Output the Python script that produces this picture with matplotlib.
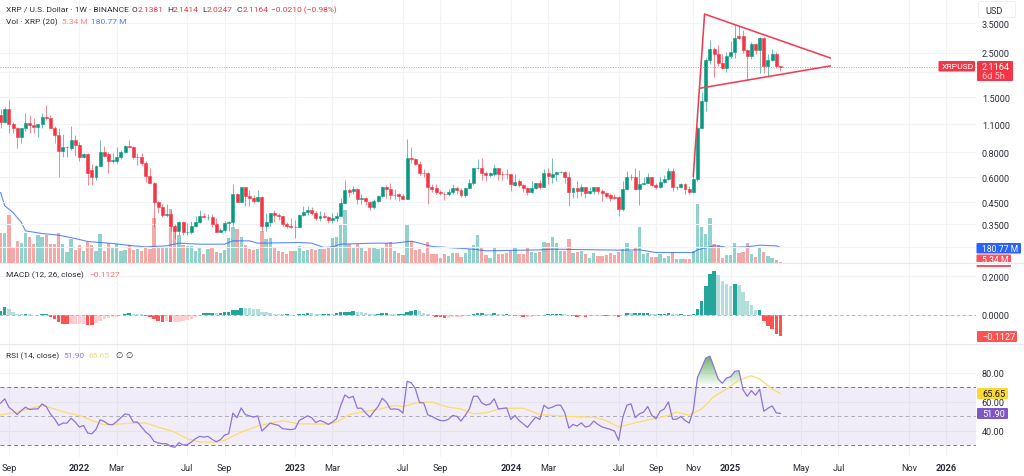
import numpy as np
import pandas as pd
import matplotlib
matplotlib.use("Agg")
import matplotlib.dates as mdates
import matplotlib.pyplot as plt
from matplotlib.colors import LinearSegmentedColormap
from matplotlib.patches import Rectangle, FancyBboxPatch
from matplotlib.path import Path
from matplotlib.ticker import NullLocator

plt.rcParams["font.family"] = ["Roboto", "DejaVu Sans"]

# weekly XRPUSD candles (first one is 23 Aug 2021)
first_week = "2021-08-23"

opens = [1.23,1.13,1.31,1.11,1.05,.95,1.05,1.12,1.09,1.07,
         1.1,1.2,1.18,1.06,.97,.81,.85,.84,.92,.865,
         .76,.78,.65,.60,.68,.80,.78,.72,.72,.76,
         .80,.86,.85,.76,.76,.71,.61,.565,.455,.425,
         .39,.395,.345,.325,.36,.32,.32,.345,.36,.385,
         .38,.38,.35,.32,.33,.355,.36,.495,.455,.535,
         .485,.475,.46,.48,.345,.36,.40,.39,.385,.35,
         .345,.34,.34,.39,.405,.415,.40,.375,.385,.38,
         .37,.375,.385,.445,.52,
         .515,.525,.467,.472,.455,.425,.458,.485,.54,.525,
         .49,.495,.485,.47,.75,.737,.70,.63,.628,.54,
         .53,.508,.498,.495,.505,.53,.522,.49,.53,.56,
         .665,.665,.628,.618,.625,.665,.622,.622,.62,.55,
         .575,.55,.53,.505,.53,.56,.54,.628,.605,.62,
         .635,.635,.60,.505,.53,.515,.535,.50,.515,.535,
         .515,.50,.49,.48,.48,.42,.525,.60,.605,.525,
         .555,.565,.605,.55,.535,.57,.59,.645,.54,.54,
         .555,.525,
         .505,.587,1.06,1.44,2.30,2.6,2.45,2.21,2.09,2.39,
         2.52,3.03,3.03,2.58,2.39,2.75,2.58,2.96,2.15,2.30,2.45,2.1381]
closes = [1.13,1.31,1.11,1.05,.955,1.05,1.12,1.09,1.07,1.10,
          1.2,1.18,1.06,.97,.81,.85,.85,.92,.865,.76,
          .78,.63,.60,.68,.80,.77,.72,.73,.76,.80,
          .86,.85,.76,.76,.71,.61,.565,.455,.425,.39,
          .395,.345,.325,.36,.32,.32,.345,.36,.385,.38,
          .38,.35,.32,.33,.355,.36,.495,.455,.535,.485,
          .475,.46,.48,.345,.36,.40,.39,.385,.35,.345,
          .34,.34,.39,.405,.415,.40,.375,.385,.38,.37,
          .375,.385,.445,.52,.51,
          .525,.467,.476,.456,.425,.458,.485,.54,.525,.49,
          .49,.485,.47,.75,.737,.70,.628,.628,.54,.525,
          .505,.50,.495,.505,.53,.52,.49,.53,.56,.665,
          .665,.628,.618,.628,.665,.62,.62,.62,.555,.572,
          .55,.53,.51,.53,.56,.54,.628,.61,.62,.635,
          .64,.60,.505,.53,.515,.535,.50,.515,.535,.515,
          .50,.485,.476,.472,.42,.525,.60,.60,.525,.555,
          .565,.605,.55,.535,.57,.59,.645,.54,.54,.555,
          .525,.505,
          .587,1.06,1.44,2.30,2.6,2.45,2.21,2.09,2.39,2.52,
          2.95,2.95,2.58,2.39,2.75,2.58,2.96,2.15,2.30,2.45,2.1381,2.1164]
highs = [1.31,1.34,1.45,1.13,1.07,1.06,1.25,1.22,1.18,1.11,
         1.25,1.37,1.22,1.08,1.06,.98,.86,1.08,.97,.90,
         .79,.79,.70,.69,.92,.86,.80,.79,.85,.82,
         .87,.92,.86,.79,.79,.72,.67,.57,.46,.44,
         .44,.415,.35,.365,.365,.355,.365,.385,.415,.40,
         .395,.395,.375,.335,.365,.365,.555,.50,.54,.54,
         .52,.49,.52,.485,.40,.40,.415,.40,.385,.36,
         .375,.37,.395,.43,.43,.425,.41,.41,.405,.385,
         .40,.405,.475,.585,.53,
         .545,.53,.495,.48,.458,.47,.49,.545,.55,.565,
         .525,.50,.495,.935,.853,.75,.72,.66,.635,.555,
         .555,.52,.51,.525,.555,.545,.53,.535,.59,.67,
         .737,.75,.645,.64,.70,.67,.645,.66,.622,.622,
         .59,.555,.54,.575,.565,.585,.66,.67,.75,.64,
         .645,.645,.635,.54,.575,.555,.54,.535,.54,.54,
         .525,.51,.50,.495,.485,.575,.645,.62,.665,.655,
         .605,.63,.605,.565,.60,.615,.67,.665,.545,.565,
         .565,.545,
         .62,1.08,1.60,2.35,2.90,2.65,2.72,2.45,2.52,2.85,
         3.42,3.40,3.24,2.6,2.82,2.8,3.0,3.0,2.47,2.6,2.52,2.1414]
lows = [1.05,1.12,1.00,1.0,.84,.89,1.02,1.0,1.0,.95,
        1.05,1.16,1.05,.89,.60,.76,.76,.82,.77,.72,
        .75,.55,.55,.58,.68,.76,.63,.71,.71,.74,
        .79,.84,.74,.69,.69,.57,.56,.34,.40,.38,
        .38,.325,.295,.31,.31,.31,.315,.34,.355,.375,
        .37,.34,.32,.32,.32,.325,.345,.45,.45,.43,
        .43,.445,.45,.325,.325,.345,.36,.37,.345,.335,
        .335,.30,.34,.385,.39,.39,.37,.365,.375,.355,
        .355,.36,.385,.44,.48,
        .495,.44,.44,.437,.414,.416,.45,.48,.476,.467,
        .47,.458,.467,.467,.705,.69,.615,.605,.44,.505,
        .495,.49,.463,.485,.495,.495,.48,.48,.525,.55,
        .66,.585,.575,.60,.61,.585,.585,.59,.515,.545,
        .54,.505,.49,.50,.525,.525,.535,.555,.565,.575,
        .628,.565,.43,.476,.476,.485,.476,.495,.495,.495,
        .458,.476,.458,.467,.385,.41,.52,.585,.52,.437,
        .555,.56,.545,.525,.53,.565,.585,.515,.52,.53,
        .495,.495,
        .50,.576,1.05,1.28,2.2,1.90,2.15,2.07,2.0,2.34,
        2.34,2.93,2.5,1.82,2.32,2.45,1.97,1.98,1.90,2.27,2.09,2.0247]

# volume, millions
volume = [352,352,568,188,260,240,352,312,220,328,
          312,332,220,228,360,220,132,280,152,208,
          140,252,212,140,348,140,240,180,228,140,
          152,212,152,168,140,180,160,532,188,180,
          180,640,400,328,208,200,200,140,188,100,
          160,180,132,120,148,300,432,400,308,212,
          168,152,168,380,280,300,192,140,128,100,
          140,140,200,140,152,160,152,168,168,180,
          296,304,460,632,220,
          180,220,192,140,172,184,164,184,240,252,
          140,112,88,460,260,152,160,112,252,100,
          100,60,100,80,120,120,72,120,168,208,
          328,192,88,60,172,100,100,120,140,180,
          100,100,192,128,112,132,248,232,312,232,
          140,140,280,112,128,140,100,60,120,80,
          80,88,120,92,128,160,240,140,192,424,
          100,120,72,72,100,60,80,128,40,48,
          48,48,
          140,700,428,348,532,220,208,60,88,88,
          232,112,132,240,100,72,172,132,80,60,32,5.34]

# 20 week volume average, only the kinks of the line (weeks counted from 3 Jan 2022)
vol_ma_weeks = [-19,-18,-16,-14,-13,-9,-5,-1,2,8,13,16,21,24,29,35,37,41,43,53,56,59,61,
                63,71,76,80,82,85,95,98,111,114,131,135,139,147,148,149,153,155,156,161,164,168,169]
vol_ma = [840,680,600,480,380,348,328,288,252,228,200,188,200,232,220,220,260,260,232,240,232,180,188,
          220,232,232,256,232,192,160,140,152,160,148,152,120,120,120,152,200,192,180,188,208,200,180.77]

macd_hist = [.021,.038,.031,.014,.005,.003,.003,.002,-.002,-.003,
             .002,.003,-.009,-.022,-.038,-.047,-.048,-.047,-.047,-.047,
             -.047,-.052,-.055,-.043,-.034,-.022,-.017,-.014,-.012,-.003,
             .005,.009,.005,.003,.002,-.005,-.012,-.022,-.031,-.036,
             -.034,-.036,-.036,-.036,-.031,-.026,-.022,-.014,-.005,.009,
             .009,.010,.007,.010,.012,.016,.026,.026,.036,.034,
             .033,.029,.028,.014,.012,.009,.005,.003,.002,.002,
             -.003,-.002,.003,.005,.009,.007,.005,.003,.003,.003,
             .002,.007,.016,.017,.017,
             .019,.014,.012,.009,.005,.003,.005,.007,.009,.003,
             .002,.002,.002,.017,.022,.026,.021,.010,.005,-.002,
             -.009,-.014,-.017,-.017,-.014,-.012,-.012,-.007,-.002,.003,
             .007,.007,.005,.003,.007,.003,.002,.002,-.003,-.007,
             -.007,-.014,-.014,-.010,-.007,-.005,-.003,.003,.005,.005,
             .005,.002,-.003,-.007,-.009,-.005,-.010,-.007,-.005,-.005,
             -.005,-.007,-.007,-.007,-.012,-.003,.009,.007,.007,.007,
             .007,.009,.005,.003,.003,.005,.009,.003,.002,.002,
             -.002,-.005,
             .002,.031,.074,.152,.212,.226,.207,.174,.160,.152,
             .160,.157,.117,.071,.053,.026,.027,-.033,-.060,-.072,-.098,-.1127]

rsi = [59,62,56.2,53.9,51.1,53.9,56.2,54.6,55,55,
       58.5,56.7,51.6,48.2,43.6,45.2,45.2,48.6,45.9,42.4,
       43.6,38.3,37.8,40.8,47.5,46.3,44.3,44,46.3,48.9,
       51.6,50.9,45.9,45.9,42.4,39,36.7,32.5,31.4,30.9,
       30.9,29.1,28.4,31.6,30,30.2,32.1,34.4,36,35.5,
       36,33.9,32.3,33.7,36.9,37.8,52.1,48.9,55.7,51.1,
       50.2,49.3,50.2,39.7,42.4,45.2,44.3,43.6,41.3,41,
       40.6,41.3,47,48.6,50.2,48.9,45.6,47,45.9,44.3,
       45.9,48.2,57.4,64.7,62.6,
       63.8,55.5,55.5,52.3,49.3,53.2,56.7,62.4,59.7,54.8,
       55,54.6,52.1,74.1,73.2,68.9,59.4,59.2,50.9,49.8,
       48.2,47,46.8,47.9,50.5,49.8,46.6,50.5,55,63.8,
       63.8,59.2,57.6,58.5,62,55,55.3,55.7,47.7,50.5,
       47,44.7,42.2,45.9,49.3,47.7,57.6,55.3,56.2,57.6,
       57.6,52.5,41.7,44.3,43.1,45.4,42.4,43.3,46.6,44.3,
       42.6,41.7,40.8,39.7,33.2,49.3,57.6,58.5,48.9,51.6,
       52.8,56.7,50.5,48.2,53.4,55,59.9,47.9,47.9,49.8,
       47,45.2,
       53.9,76.9,83.3,90.2,91.6,83.8,75.7,72.8,76.4,77.4,
       81,81.5,68.2,63.8,67.7,64.5,68.6,53.4,55.5,57.1,52.3,51.9]

rsi_ma_weeks = [-19,-15,-13,-9,-6,-3,0,3,6,10,13,16,19,23,26,29,33,35,39,43,46,49,53,60,62,
                65,68,72,76,78,82,85,89,92,95,98,102,107,111,118,124,127,130,134,138,142,144,147,
                150,153,156,159,162,164,167,169]
rsi_ma = [50.9,52.8,54.4,57.4,55,52.3,50.5,47,44,44.7,45.2,45.2,42.4,39,34.4,32.1,32.1,33.2,39,43.1,45.2,46.8,44.7,44.5,45.9,
          51,52.8,54.6,57.4,56.7,59.7,59.7,56.2,55,51.6,52.3,55.5,55.5,51.1,49.8,49.3,47,42.4,45.4,47.9,50.5,52.8,50.7,
          55,63.6,68.9,75,78,75.7,68.9,65.65]

price_ticks = [3.5, 2.5, 2.0, 1.5, 1.1, 0.8, 0.6, 0.45, 0.35, 0.27]
price_labels = ["3.5000", "2.5000", "", "1.5000", "1.1000", "0.8000", "0.6000", "0.4500", "0.3500", ""]
macd_ticks = [0.2, 0.0]
rsi_ticks = [80, 60, 40]

month_ticks = ["2021-09-06", "2022-01-03", "2022-03-07", "2022-07-04", "2022-09-05", "2023-01-02",
               "2023-03-06", "2023-07-03", "2023-09-04", "2024-01-01", "2024-03-04", "2024-07-01",
               "2024-09-02", "2024-11-04", "2025-01-06", "2025-05-05", "2025-07-07", "2025-11-03", "2026-01-05"]
month_labels = ["Sep", "2022", "Mar", "Jul", "Sep", "2023", "Mar", "Jul", "Sep", "2024", "Mar", "Jul",
                "Sep", "Nov", "2025", "May", "Jul", "Nov", "2026"]

# drawn triangle on the price pane
leg_dates = ["2024-11-04", "2024-11-23", "2025-06-23"]
leg_prices = [0.608, 3.88, 2.35]
base_dates = ["2024-11-16", "2025-06-23"]
base_prices = [1.664, 2.144]

UP = "#089981"
DOWN = "#f23645"
GRID = "#f2f3f6"
TEXT = "#2a2e39"
FS = 6.6     # scale labels
LEG = 6.0    # pane legends

W, H = 1024, 477

opens, closes, highs, lows = map(np.array, (opens, closes, highs, lows))
rsi = np.array(rsi)
macd_hist = np.array(macd_hist)
dates = pd.date_range(first_week, periods=len(closes), freq="7D")
x = mdates.date2num(dates)
jan22 = mdates.date2num(pd.Timestamp("2022-01-03"))
rising = closes >= opens
tick_x = mdates.date2num(pd.to_datetime(month_ticks))
# pane limits: left edge is just before the first candle, right edge is the price scale
xlim = (jan22 - 19.14 * 7, jan22 + 216.15 * 7)


def pane(top, bottom):
    ax = fig.add_axes([0, 1 - bottom / H, 976 / W, (bottom - top) / H])
    for s in ax.spines.values():
        s.set_visible(False)
    ax.set_xticks(tick_x)
    ax.tick_params(length=0, labelbottom=False)
    ax.yaxis.tick_right()
    ax.set_xlim(*xlim)
    return ax


fig = plt.figure(figsize=(W / 100, H / 100), dpi=100, facecolor="white")

# volume sits behind the candles in the same pane
ax_vol = pane(0, 263.5)
ax_vol.set_zorder(1)
ax_vol.grid(axis="x", color=GRID, lw=0.8)
ax_vol.set_axisbelow(True)
ax_vol.set_yticks([])
ax_vol.bar(x, volume, width=5.6, color=np.where(rising, "#26a69a", "#ef5350"), alpha=0.5, lw=0)
ax_vol.plot(jan22 + np.array(vol_ma_weeks) * 7, vol_ma, color="#2962ff", lw=0.8, alpha=0.75)
ax_vol.set_ylim(0, 3162)
ax_vol.set_xlim(*xlim)

ax = pane(0, 263.5)
ax.set_zorder(2)
ax.patch.set_visible(False)
ax.set_yscale("log")
ax.set_ylim(0.2266, 4.61)
ax.set_xlim(*xlim)
ax.set_yticks(price_ticks)
ax.set_yticklabels(price_labels, fontsize=FS, color=TEXT)
ax.yaxis.set_minor_locator(NullLocator())
ax.tick_params(axis="y", pad=4.2)
ax.set_xticks([])
ax.grid(axis="y", color=GRID, lw=0.8)
ax.set_axisbelow(True)
colors = np.where(rising, UP, DOWN)
ax.vlines(x, lows, highs, colors=colors, lw=0.7, alpha=0.6)
ax.bar(x, np.abs(closes - opens), bottom=np.minimum(opens, closes), width=5.0, color=colors,
       edgecolor=colors, lw=0.4)
ax.axhline(closes[-1], color=DOWN, lw=0.7, ls=(0, (1, 1.5)), alpha=0.6)
ax.plot(mdates.date2num(pd.to_datetime(leg_dates)), leg_prices, color="#f23d55", lw=1.15)
ax.plot(mdates.date2num(pd.to_datetime(base_dates)), base_prices, color="#f23d55", lw=1.15)

# MACD histogram
ax_macd = pane(265, 345)
ax_macd.set_ylim(-0.152, 0.264)
growing = np.diff(macd_hist, prepend=macd_hist[0]) >= 0
hist_colors = [("#26a69a" if g else "#b2dfdb") if v >= 0 else ("#ffcdd2" if g else "#ff5252")
               for v, g in zip(macd_hist, growing)]
ax_macd.grid(color=GRID, lw=0.8)
ax_macd.set_axisbelow(True)
ax_macd.axhline(0, color="#b2b5be", lw=0.7, ls=(0, (3, 3)))
ax_macd.bar(x, macd_hist, width=5.9, color=hist_colors, lw=0)
ax_macd.set_yticks(macd_ticks)
ax_macd.set_yticklabels(["%.4f" % v for v in macd_ticks], fontsize=FS, color=TEXT)
ax_macd.tick_params(axis="y", pad=4.2)

# RSI
ax_rsi = pane(345, 458)
ax_rsi.grid(color=GRID, lw=0.8)
ax_rsi.set_axisbelow(True)
ax_rsi.axhspan(30, 70, color="#7e57c2", alpha=0.1, lw=0)
for level, a in ((70, 1), (50, 0.55), (30, 1)):
    ax_rsi.axhline(level, color="#787b86", lw=0.7, ls=(0, (4, 3)), alpha=a)
overbought = ax_rsi.fill_between(x, rsi, 70, where=rsi > 70, interpolate=True, color="none")
clip = Path.make_compound_path(*overbought.get_paths())
green_fade = LinearSegmentedColormap.from_list("fade", [(0.3, 0.68, 0.31, 0.0), (0.3, 0.62, 0.31, 0.85)])
im = ax_rsi.imshow(np.linspace(1, 0, 64).reshape(-1, 1), cmap=green_fade, aspect="auto",
                   extent=[x[0], x[-1], 70, 92], zorder=1.5)
im.set_clip_path(clip, transform=ax_rsi.transData)
ax_rsi.plot(jan22 + np.array(rsi_ma_weeks) * 7, rsi_ma, color="#fbdc6c", lw=0.9, zorder=3)
ax_rsi.plot(x, rsi, color="#8f73d6", lw=0.9, zorder=4)
ax_rsi.set_xlim(*xlim)
ax_rsi.set_ylim(21.7, 100)
ax_rsi.set_yticks(rsi_ticks)
ax_rsi.set_yticklabels(["%.2f" % v for v in rsi_ticks], fontsize=FS, color=TEXT)
ax_rsi.tick_params(axis="y", pad=4.2)
ax_rsi.tick_params(axis="x", labelbottom=True, pad=4.2)
ax_rsi.set_xticklabels(month_labels, fontsize=FS, color=TEXT)
for label in ax_rsi.get_xticklabels():
    if label.get_text().isdigit():
        label.set_fontweight("bold")

# overlay in pixel coordinates for the legends and price tags
over = fig.add_axes([0, 0, 1, 1])
over.set_zorder(10)
over.patch.set_visible(False)
over.axis("off")
over.set_xlim(0, W)
over.set_ylim(H, 0)


def label(px, py, s, color=TEXT, size=LEG, **kw):
    over.text(px, py, s, color=color, fontsize=size, va="center", **kw)


def tag(x0, x1, y0, y1, color):
    over.add_patch(FancyBboxPatch((x0 + 1, y0 + 1), x1 - x0 - 2, y1 - y0 - 2,
                                  boxstyle="round,pad=1", fc=color, ec="none"))


over.plot([0, W], [264, 264], color="#e8e9ee", lw=0.8)
over.plot([0, W], [345, 345], color="#e8e9ee", lw=0.8)

label(5.7, 10, "XRP / U.S. Dollar · 1W · BINANCE")
label(132, 10, "O")
label(138, 10, "2.1381", DOWN)
label(167, 10, "H")
label(172.5, 10, "2.1414", DOWN)
label(202, 10, "L")
label(207, 10, "2.0247", DOWN)
label(236.5, 10, "C")
label(243, 10, "2.1164", DOWN)
label(271, 10, "−0.0210 (−0.98%)", DOWN)
label(5.7, 21.7, "Vol · XRP (20)")
label(62, 21.7, "5.34 M", "#f5898c")
label(91, 21.7, "180.77 M", "#4d7dff")
label(5.7, 275, "MACD (12, 26, close)")
label(89, 275, "−0.1127", "#ff6b6b")
label(5.7, 356, "RSI (14, close)")
label(63, 356, "51.90", "#9276d8")
label(88.7, 356, "65.65", "#f7dc6a")
label(115, 356, "∅")
label(125, 356, "∅")

# USD button, covers the top of the 3.5000 label
over.add_patch(FancyBboxPatch((980, 4), 34, 13, boxstyle="round,pad=1.5", fc="white", ec="#eceef2", lw=0.6))
label(985, 11, "USD", size=FS)

tag(938.5, 975, 62, 72.5, DOWN)
label(941.5, 67.3, "XRPUSD", "white", 6.1)
tag(977, 1013, 62, 82, DOWN)
label(982, 67.3, "2.1164", "white", FS)
label(982, 76.8, "6d 5h", "#ffc4c9", FS)

tag(976.5, 1021, 244, 254.5, "#2962ff")
label(982, 249.5, "180.77 M", "white", 6.2)
tag(976.5, 1011, 255.5, 268, "#f7525f")
label(982, 260.5, "5.34 M", "white", 6.2)
over.add_patch(Rectangle((976, 263), 48, 2.5, fc="white", ec="none", zorder=3))
over.plot([976, W], [264, 264], color="#e8e9ee", lw=0.8, zorder=4)

tag(977, 1017, 332, 343, "#ff5252")
label(982, 337.5, "−0.1127", "white", FS)
tag(977, 1008, 389, 400, "#fdd835")
label(982, 394.5, "65.65", "#131722", FS)
tag(977, 1008, 409, 420, "#7e57c2")
label(982, 414.5, "51.90", "white", FS)

fig.savefig("out.png", dpi=100)
